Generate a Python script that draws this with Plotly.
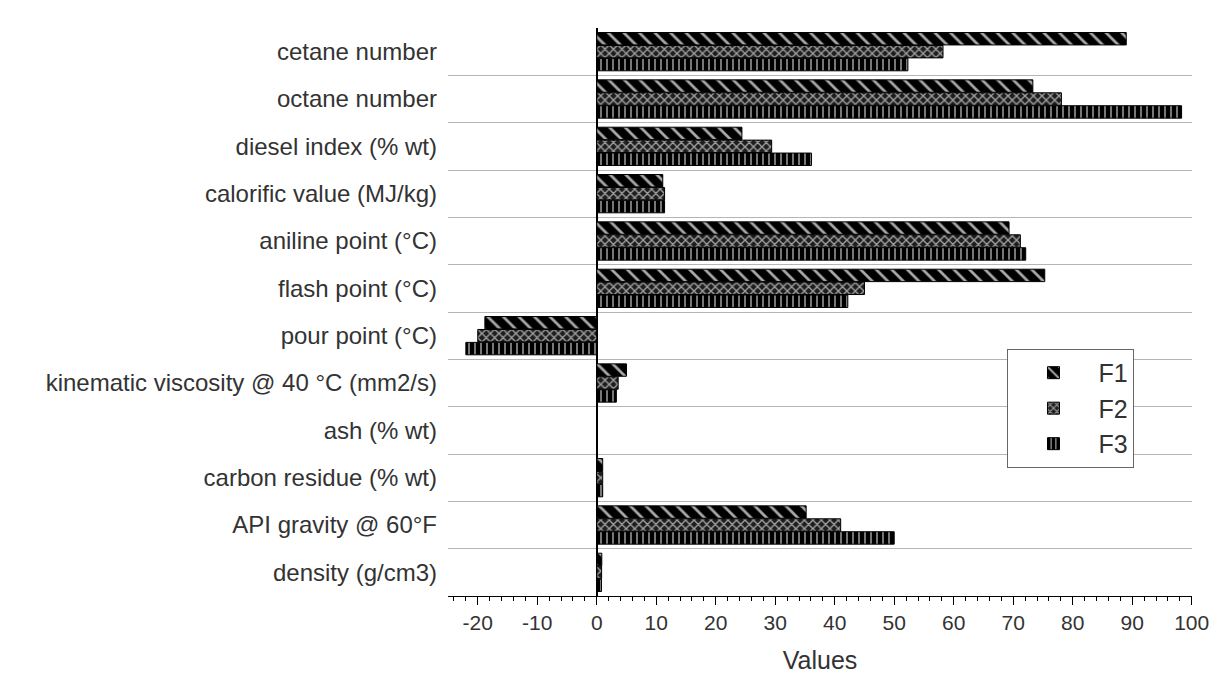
import plotly.graph_objects as go

categories = [
    "cetane number",
    "octane number",
    "diesel index (% wt)",
    "calorific value (MJ/kg)",
    "aniline point (°C)",
    "flash point (°C)",
    "pour point (°C)",
    "kinematic viscosity @ 40 °C (mm2/s)",
    "ash (% wt)",
    "carbon residue (% wt)",
    "API gravity @ 60°F",
    "density (g/cm3)",
]
F1 = [89, 73.3, 24.4, 11.1, 69.3, 75.3, -18.8, 5.0, 0.02, 1.0, 35.2, 0.85]
F2 = [58.2, 78.1, 29.4, 11.4, 71.2, 45.0, -20.0, 3.6, 0.02, 1.0, 41.0, 0.82]
F3 = [52.3, 98.3, 36.1, 11.4, 72.1, 42.2, -22.0, 3.3, 0.02, 1.0, 50.0, 0.80]

x_tickvals = [-20, -10, 0, 10, 20, 30, 40, 50, 60, 70, 80, 90, 100]
x_ticktext = ["-20", "-10", "0", "10", "20", "30", "40", "50", "60", "70", "80", "90", "100"]

series = [
    ("F1", F1, dict(shape="\\", fgcolor="#a8a8a8", bgcolor="black", size=11, solidity=0.25, fillmode="replace")),
    ("F2", F2, dict(shape="x", fgcolor="#a0a0a0", bgcolor="#1e1e1e", size=6, solidity=0.4, fillmode="replace")),
    ("F3", F3, dict(shape="|", fgcolor="#c8c8c8", bgcolor="black", size=6, solidity=0.2, fillmode="replace")),
]

fig = go.Figure()
for name, vals, pat in series:
    fig.add_trace(go.Bar(
        y=categories, x=vals, name=name, orientation="h",
        marker=dict(color="black", line=dict(color="black", width=1), pattern=pat),
    ))

fig.update_layout(
    width=1212, height=686,
    margin=dict(l=448, r=20, t=28, b=90),
    paper_bgcolor="white", plot_bgcolor="white",
    barmode="group", bargap=0.18, bargroupgap=0.04,
    font=dict(family="Liberation Sans, Arial, sans-serif", color="#333333", size=20),
    legend=dict(
        x=0.752, y=0.435, xanchor="left", yanchor="top",
        bordercolor="#666666", borderwidth=1, bgcolor="white",
        font=dict(size=25, color="#333333"), itemwidth=80, tracegroupgap=0,
    ),
    xaxis=dict(
        range=[-25, 100.05], tickvals=x_tickvals, ticktext=x_ticktext,
        automargin=False,
        showgrid=False, zeroline=True, zerolinecolor="black", zerolinewidth=1.5,
        showline=True, linecolor="black", linewidth=1.2,
        ticks="outside", ticklen=8, tickcolor="black", tickwidth=1.2,
        minor=dict(dtick=2, ticks="outside", ticklen=4, tickcolor="black"),
        tickfont=dict(size=21, color="#333333"),
        title=dict(text="Values", font=dict(size=25, color="#333333"), standoff=18),
    ),
    yaxis=dict(
        autorange="reversed", type="category", automargin=False,
        tickson="boundaries", showgrid=True, gridcolor="#b5b5b5", gridwidth=1,
        showline=False, ticks="", ticklabelstandoff=10,
        tickfont=dict(size=24, color="#333333"),
    ),
)

fig.write_html("out.html")
